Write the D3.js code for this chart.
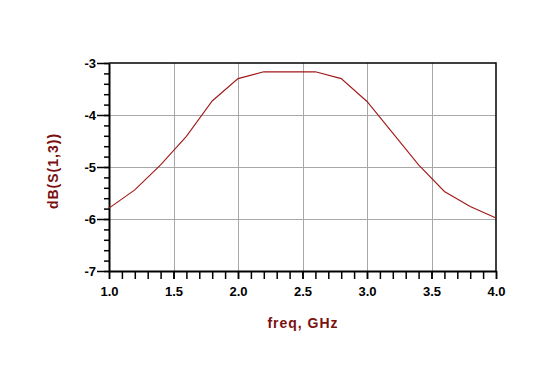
<!DOCTYPE html>
<html>
<head>
<meta charset="utf-8">
<script src="https://cdn.jsdelivr.net/npm/d3@7"></script>
<style>
  html, body { margin: 0; padding: 0; background: #fff; }
  svg { display: block; font-family: 'Liberation Sans', Arial, sans-serif; }
  .tick text { font-weight: bold; font-size: 13px; fill: #000; }
  .axis-label { font-weight: bold; font-size: 14px; letter-spacing: 1px; fill: #7a1010; }
</style>
</head>
<body>
<svg id="chart" width="558" height="382"></svg>
<script>
/* data (freq in GHz, dB(S(1,3))) */
const freq = [1.0, 1.2, 1.4, 1.6, 1.8, 2.0, 2.2, 2.4, 2.6, 2.8, 3.0, 3.2, 3.4, 3.6, 3.8, 4.0]
const dbS13 = [-5.79, -5.44, -4.96, -4.41, -3.73, -3.30, -3.17, -3.17, -3.17, -3.30, -3.74, -4.35, -4.96, -5.47, -5.76, -5.98]

/* tick values */
const xMajor = [1.0, 1.5, 2.0, 2.5, 3.0, 3.5, 4.0]
const yMajor = [-3, -4, -5, -6, -7]

/* plot box */
const margin = { top: 63, left: 109, right: 62, bottom: 111 }
const width = 558 - margin.left - margin.right
const height = 382 - margin.top - margin.bottom

const svg = d3.select('#chart')
const g = svg.append('g').attr('transform', `translate(${margin.left}, ${margin.top})`)

const xScale = d3.scaleLinear().domain([1, 4]).range([0, width])
const yScale = d3.scaleLinear().domain([-7, -3]).range([height, 0])

/* minor tick positions */
const xMinor = d3.range(1.0, 4.0001, 0.1)
const yMinor = d3.range(-7, -2.999, 0.2)

/* gridlines */
g.append('g')
  .selectAll('line')
  .data(xMajor.slice(1, -1))
  .join('line')
  .attr('x1', (d) => Math.round(xScale(d)) + 0.5)
  .attr('x2', (d) => Math.round(xScale(d)) + 0.5)
  .attr('y1', 0)
  .attr('y2', height)
  .attr('stroke', '#a8a8a8')
  .attr('stroke-width', 1)

g.append('g')
  .selectAll('line')
  .data(yMajor.slice(1, -1))
  .join('line')
  .attr('x1', 0)
  .attr('x2', width)
  .attr('y1', (d) => Math.round(yScale(d)) + 0.5)
  .attr('y2', (d) => Math.round(yScale(d)) + 0.5)
  .attr('stroke', '#a8a8a8')
  .attr('stroke-width', 1)

/* frame (top and right) */
g.append('path')
  .attr('d', `M0,0H${width}V${height}`)
  .attr('fill', 'none')
  .attr('stroke', '#000')
  .attr('stroke-width', 1.5)

/* x-axis: minor ticks then labelled major ticks */
g.append('g')
  .attr('transform', `translate(0, ${height})`)
  .call(d3.axisBottom(xScale).tickValues(xMinor).tickSize(8).tickFormat(''))
  .call((a) => a.select('.domain').remove())
  .call((a) => a.selectAll('line').attr('stroke-width', 1.5))

g.append('g')
  .attr('transform', `translate(0, ${height})`)
  .call(d3.axisBottom(xScale).tickValues(xMajor).tickSize(8).tickSizeOuter(0).tickPadding(8).tickFormat((d) => d.toFixed(1)))
  .call((a) => a.select('.domain').attr('stroke-width', 2))
  .call((a) => a.selectAll('line').attr('stroke-width', 1.5))

/* y-axis */
g.append('g')
  .call(d3.axisLeft(yScale).tickValues(yMinor).tickSize(5).tickFormat(''))
  .call((a) => a.select('.domain').remove())
  .call((a) => a.selectAll('line').attr('stroke-width', 1.5))

g.append('g')
  .call(d3.axisLeft(yScale).tickValues(yMajor).tickSize(12).tickSizeOuter(0).tickPadding(1).tickFormat((d) => String(d)))
  .call((a) => a.select('.domain').attr('stroke-width', 2))
  .call((a) => a.selectAll('line').attr('stroke-width', 1.5))

/* curve */
const line = d3.line()
  .x((d, i) => xScale(freq[i]))
  .y((d) => yScale(d))

g.append('path')
  .datum(dbS13)
  .attr('d', line)
  .attr('fill', 'none')
  .attr('stroke', '#a01818')
  .attr('stroke-width', 1.1)

/* axis titles */
svg.append('text')
  .attr('class', 'axis-label')
  .attr('transform', 'translate(58, 171) rotate(-90)')
  .attr('text-anchor', 'middle')
  .text('dB(S(1,3))')

svg.append('text')
  .attr('class', 'axis-label')
  .attr('x', 303)
  .attr('y', 328)
  .attr('text-anchor', 'middle')
  .text('freq, GHz')
</script>
</body>
</html>
